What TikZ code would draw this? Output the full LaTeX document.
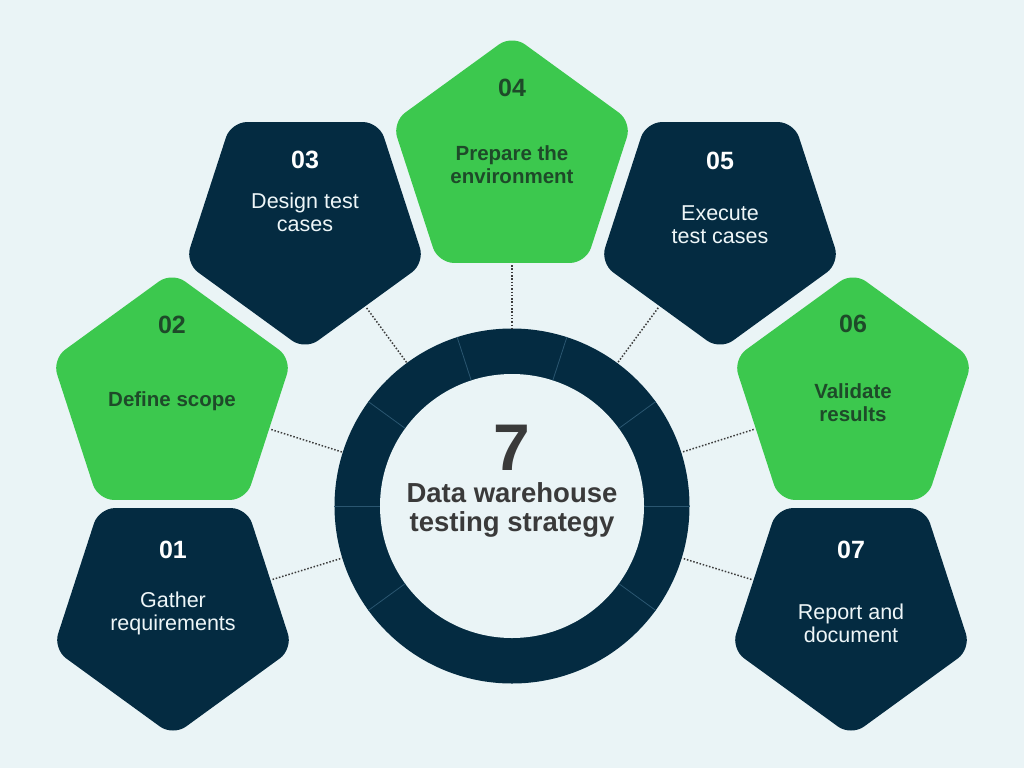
\documentclass[tikz,border=0pt]{standalone}
\usepackage{fontspec}
\setmainfont{Liberation Sans}
\usetikzlibrary{shapes.geometric}
\definecolor{bgc}{HTML}{EAF4F6}
\definecolor{navy}{HTML}{042B41}
\definecolor{grn}{HTML}{3CC84E}
\definecolor{grntxt}{HTML}{1E4A29}
\definecolor{ctxt}{HTML}{3A3A3A}
\definecolor{dotc}{HTML}{3C3C3C}
\definecolor{divc}{HTML}{2A5670}
\definecolor{lightw}{HTML}{EEF6F8}
\begin{document}
\begin{tikzpicture}[x=1pt,y=-1pt,
  pent/.style={regular polygon, regular polygon sides=5, minimum size=252pt, inner sep=0pt, rounded corners=16pt},
  upp/.style={pent, fill=grn},
  downp/.style={pent, fill=navy, shape border rotate=180},
  numw/.style={anchor=base, text=white, font=\fontsize{25}{28}\selectfont\bfseries},
  numg/.style={anchor=base, text=grntxt, font=\fontsize{25}{28}\selectfont\bfseries},
  labw/.style={anchor=base, align=center, text=lightw, font=\fontsize{21.5}{23}\selectfont},
  labg/.style={anchor=base, align=center, text=grntxt, font=\fontsize{20.5}{23}\selectfont\bfseries},
  conn/.style={draw=dotc, line width=1.5pt, dash pattern=on 1.5pt off 1.8pt, shorten <=2pt},
  divl/.style={draw=divc, line width=0.8pt}
]
\fill[bgc] (0,0) rectangle (1024,768);
\useasboundingbox (0,0) rectangle (1024,768);

% pentagons
\node[downp] (p1) at (173,610) {};
\node[upp]   (p2) at (172,398) {};
\node[downp] (p3) at (305,224) {};
\node[upp]   (p4) at (512,161) {};
\node[downp] (p5) at (720,224) {};
\node[upp]   (p6) at (853,398) {};
\node[downp] (p7) at (851,610) {};

% ring
\node[circle, fill=navy, minimum size=355pt, inner sep=0pt] (ring) at (512,506) {};
\node[circle, fill=bgc, minimum size=264pt, inner sep=0pt] (hole) at (512,506) {};
\foreach \a in {0,36,72,108,144,180,216,324}
  \draw[divl] (hole.\a) -- (ring.\a);

% connectors
\foreach \p in {p1,p2,p3,p4,p5,p6,p7}
  \draw[conn] (\p) -- (ring);

% texts
\node[numw] (n1) at (173,558) {01};
\node[labw] (l1) at (173,630) {Gather\\requirements};
\node[numg] (n2) at (172,333) {02};
\node[labg] (l2) at (172,406) {Define scope};
\node[numw] (n3) at (305,168) {03};
\node[labw] (l3) at (305,231) {Design test\\cases};
\node[numg] (n4) at (512,96) {04};
\node[labg] (l4) at (512,183) {Prepare the\\environment};
\node[numw] (n5) at (720,169) {05};
\node[labw] (l5) at (720,243) {Execute\\test cases};
\node[numg] (n6) at (853,332) {06};
\node[labg] (l6) at (853,421) {Validate\\results};
\node[numw] (n7) at (851,558) {07};
\node[labw] (l7) at (851,642) {Report and\\document};

\node[anchor=base, text=ctxt, font=\fontsize{66}{66}\selectfont\bfseries] (seven) at (512,470) {7};
\node[anchor=base, align=center, text=ctxt, font=\fontsize{27.5}{29}\selectfont\bfseries] (title) at (512,531) {Data warehouse\\testing strategy};
\end{tikzpicture}
\end{document}
